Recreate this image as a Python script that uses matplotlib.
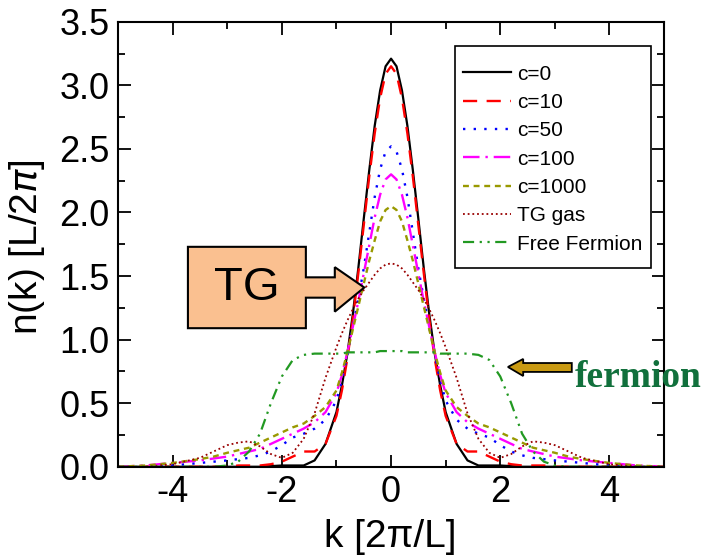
import matplotlib
matplotlib.use("Agg")
import matplotlib.pyplot as plt
from matplotlib.patches import Polygon, Rectangle
from matplotlib.ticker import MultipleLocator, FormatStrFormatter

plt.rcParams['font.family'] = ['Liberation Sans', 'DejaVu Sans']
plt.rcParams['axes.unicode_minus'] = False

# momentum grid k [2pi/L]
k = [-5.0, -4.5, -4.0, -3.5, -3.25, -3.0,
     -2.8, -2.6, -2.4, -2.2, -2.0, -1.8, -1.6, -1.4, -1.2,
     -1.0, -0.9, -0.8, -0.7, -0.6, -0.5, -0.4, -0.3, -0.2, -0.1,
     0.0,
     0.1, 0.2, 0.3, 0.4, 0.5, 0.6, 0.7, 0.8, 0.9, 1.0,
     1.2, 1.4, 1.6, 1.8, 2.0, 2.2, 2.4, 2.6, 2.8,
     3.0, 3.25, 3.5, 4.0, 4.5, 5.0]

n_c0 = [0, 0, 0, 0, 0, 0,
        0, 0, 0, 0.005, 0.01, 0.01, 0.01, 0.05, 0.18,
        0.43, 0.64, 0.89, 1.20, 1.56, 1.95, 2.33, 2.68, 2.96, 3.15,
        3.21,
        3.15, 2.96, 2.68, 2.33, 1.95, 1.56, 1.20, 0.89, 0.64, 0.43,
        0.18, 0.05, 0.01, 0.01, 0.01, 0.005, 0, 0, 0,
        0, 0, 0, 0, 0, 0]

n_c10 = [0, 0, 0, 0, 0, 0,
         0.01, 0.01, 0.01, 0.02, 0.04, 0.08, 0.12, 0.12, 0.18,
         0.40, 0.60, 0.85, 1.16, 1.52, 1.90, 2.28, 2.62, 2.90, 3.09,
         3.15,
         3.09, 2.90, 2.62, 2.28, 1.90, 1.52, 1.16, 0.85, 0.60, 0.40,
         0.18, 0.12, 0.12, 0.08, 0.04, 0.02, 0.01, 0.01, 0.01,
         0, 0, 0, 0, 0, 0]

n_c50 = [0.0, 0.0, 0.01, 0.03, 0.04, 0.05,
         0.06, 0.07, 0.09, 0.12, 0.17, 0.23, 0.26, 0.30, 0.37,
         0.52, 0.68, 0.88, 1.10, 1.32, 1.56, 1.84, 2.12, 2.34, 2.48,
         2.52,
         2.48, 2.34, 2.12, 1.84, 1.56, 1.32, 1.10, 0.88, 0.68, 0.52,
         0.37, 0.30, 0.26, 0.23, 0.17, 0.12, 0.09, 0.07, 0.06,
         0.05, 0.04, 0.03, 0.01, 0.0, 0.0]

n_c100 = [0.0, 0.01, 0.03, 0.05, 0.065, 0.08,
          0.10, 0.12, 0.14, 0.18, 0.22, 0.26, 0.30, 0.35, 0.43,
          0.58, 0.72, 0.90, 1.10, 1.30, 1.52, 1.74, 1.96, 2.14, 2.26,
          2.30,
          2.26, 2.14, 1.96, 1.74, 1.52, 1.30, 1.10, 0.90, 0.72, 0.58,
          0.43, 0.35, 0.30, 0.26, 0.22, 0.18, 0.14, 0.12, 0.10,
          0.08, 0.065, 0.05, 0.03, 0.01, 0.0]

n_c1000 = [0.0, 0.01, 0.03, 0.06, 0.08, 0.11,
           0.13, 0.15, 0.19, 0.23, 0.27, 0.31, 0.34, 0.40, 0.47,
           0.60, 0.74, 0.90, 1.08, 1.26, 1.44, 1.62, 1.78, 1.93, 2.02,
           2.05,
           2.02, 1.93, 1.78, 1.62, 1.44, 1.26, 1.08, 0.90, 0.74, 0.60,
           0.47, 0.40, 0.34, 0.31, 0.27, 0.23, 0.19, 0.15, 0.13,
           0.11, 0.08, 0.06, 0.03, 0.01, 0.0]

n_tg = [0.0, 0.0, 0.02, 0.07, 0.12, 0.17,
        0.19, 0.20, 0.16, 0.10, 0.07, 0.11, 0.22, 0.42, 0.70,
        0.94, 1.05, 1.15, 1.24, 1.32, 1.39, 1.45, 1.51, 1.56, 1.59,
        1.60,
        1.59, 1.56, 1.51, 1.45, 1.39, 1.32, 1.24, 1.15, 1.05, 0.94,
        0.70, 0.42, 0.22, 0.11, 0.07, 0.10, 0.16, 0.20, 0.19,
        0.17, 0.12, 0.07, 0.02, 0.0, 0.0]

n_ff = [0, 0, 0, 0, 0, 0.01,
        0.04, 0.12, 0.26, 0.50, 0.71, 0.84, 0.88, 0.89, 0.89,
        0.89, 0.89, 0.90, 0.90, 0.90, 0.90, 0.90, 0.90, 0.91, 0.91,
        0.91,
        0.91, 0.91, 0.90, 0.90, 0.90, 0.90, 0.90, 0.90, 0.89, 0.89,
        0.89, 0.89, 0.88, 0.84, 0.71, 0.50, 0.26, 0.12, 0.04,
        0.01, 0, 0, 0, 0, 0]

labels = ["c=0", "c=10", "c=50", "c=100", "c=1000", "TG gas", "Free Fermion"]


def draw_curves(ax):
    ax.plot(k, n_c0, color='black', lw=1.6, ls='-', label=labels[0])
    ax.plot(k, n_c10, color='#ff0000', lw=1.7, ls=(0, (6, 4)), label=labels[1])
    ax.plot(k, n_c50, color='#0000ff', lw=1.7, ls=(0, (1, 3.5)), label=labels[2])
    ax.plot(k, n_c100, color='#ff00ff', lw=1.7, ls=(0, (7, 2.5, 1, 2.5)), label=labels[3])
    ax.plot(k, n_c1000, color='#999900', lw=1.7, ls=(0, (2.5, 2)), label=labels[4])
    ax.plot(k, n_tg, color='#990000', lw=1.3, ls=(0, (1, 1.6)), label=labels[5])
    ax.plot(k, n_ff, color='#229922', lw=1.6, ls=(0, (5, 2.5, 1, 2.5, 1, 2.5)), label=labels[6])


def draw_callouts(ax):
    # "TG" right-arrow callout box
    tg = [(-3.72, 1.73), (-1.56, 1.73), (-1.56, 1.49), (-1.03, 1.49), (-1.03, 1.57),
          (-0.49, 1.41), (-1.03, 1.22), (-1.03, 1.33), (-1.56, 1.33), (-1.56, 1.09),
          (-3.72, 1.09)]
    ax.add_patch(Polygon(tg, closed=True, fc='#FAC090', ec='black', lw=1.5,
                         zorder=10, clip_on=False))
    ax.text(-2.64, 1.41, "TG", fontsize=34, ha='center', va='center', zorder=11)

    # arrow pointing at the free fermion curve
    fa = [(2.14, 0.785), (2.42, 0.848), (2.42, 0.816), (3.31, 0.816),
          (3.31, 0.746), (2.42, 0.746), (2.42, 0.714)]
    ax.add_patch(Polygon(fa, closed=True, fc='#C99A12', ec='black', lw=1.3,
                         zorder=10, clip_on=False))
    ax.text(3.37, 0.63, "fermion", fontsize=27, fontweight='bold',
            family=['Liberation Serif', 'DejaVu Serif'], color='#11703c',
            ha='left', va='baseline', zorder=11, clip_on=False)


def main():
    fig = plt.figure(figsize=(7.11, 5.59), dpi=100)
    ax = fig.add_axes([0.166, 0.165, 0.768, 0.796])

    draw_curves(ax)

    ax.set_xlim(-5, 5)
    ax.set_ylim(0, 3.5)
    ax.xaxis.set_major_locator(MultipleLocator(2))
    ax.xaxis.set_minor_locator(MultipleLocator(1))
    ax.yaxis.set_major_locator(MultipleLocator(0.5))
    ax.yaxis.set_minor_locator(MultipleLocator(0.25))
    ax.yaxis.set_major_formatter(FormatStrFormatter('%.1f'))
    ax.tick_params(which='both', direction='in', top=True, right=True,
                   width=1.3, labelsize=26, pad=6)
    ax.tick_params(which='major', length=9)
    ax.tick_params(which='minor', length=5)
    for s in ax.spines.values():
        s.set_linewidth(1.5)

    ax.set_xlabel("k [2π/L]", fontsize=28)
    ax.set_ylabel(r"n(k) [L/2$\pi$]", fontsize=28)
    ax.xaxis.set_label_coords(0.498, -0.118)
    ax.yaxis.set_label_coords(-0.13, 0.494)

    # legend entries without frame, frame drawn as a plain box
    ax.legend(loc='upper left', bbox_to_anchor=(463 / 711, 1 - 64.5 / 559),
              bbox_transform=fig.transFigure, fontsize=15, frameon=False,
              handlelength=2.3, handletextpad=0.3, labelspacing=0.45,
              borderpad=0, borderaxespad=0)
    fig.patches.append(Rectangle((455 / 711, 1 - 268 / 559), 196 / 711, 222 / 559,
                                 transform=fig.transFigure, fill=False,
                                 ec='black', lw=1.2, zorder=5))

    draw_callouts(ax)

    fig.savefig("out.png", dpi=100)


if __name__ == '__main__':
    main()
